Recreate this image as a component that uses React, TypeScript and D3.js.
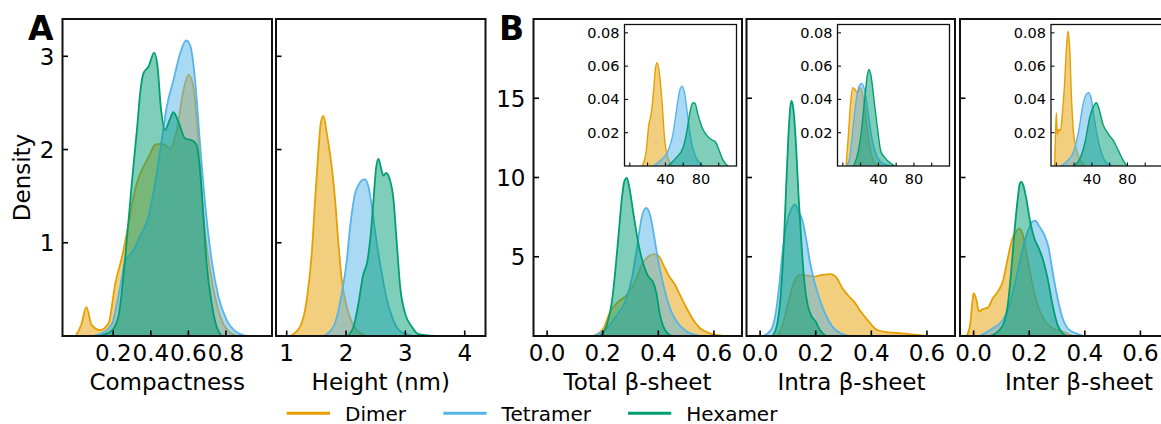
import React from 'react';
import * as d3 from 'd3';

type P = [number, number];

const SERIES = ['Dimer', 'Tetramer', 'Hexamer'];
const COLORS = ['#E69F00', '#56B4E9', '#009E73'];

// ---- Panel A: Compactness ----
const compactDimer: P[] = [[0.0,0],[0.03,0.12],[0.057,0.31],[0.085,0.12],[0.131,0.064],[0.175,0.136],[0.211,0.565],[0.247,0.85],[0.282,1.21],[0.308,1.49],[0.326,1.64],[0.352,1.78],[0.388,1.92],[0.423,2.05],[0.45,2.06],[0.476,2.05],[0.503,2.01],[0.538,2.21],[0.574,2.64],[0.60,2.80],[0.623,2.71],[0.653,2.10],[0.68,1.28],[0.715,0.71],[0.75,0.35],[0.786,0.13],[0.821,0.04],[0.857,0]];
const compactTetramer: P[] = [[0.09,0],[0.149,0.04],[0.193,0.13],[0.237,0.53],[0.264,0.81],[0.299,0.89],[0.343,1.07],[0.388,1.28],[0.423,1.64],[0.458,2.10],[0.485,2.46],[0.52,2.74],[0.556,3.03],[0.588,3.17],[0.609,3.12],[0.636,2.74],[0.662,2.06],[0.689,1.42],[0.724,0.81],[0.76,0.42],[0.804,0.17],[0.857,0.04],[0.91,0]];
const compactHexamer: P[] = [[0.13,0],[0.193,0.06],[0.228,0.21],[0.264,0.85],[0.299,1.64],[0.326,2.21],[0.347,2.67],[0.361,2.82],[0.388,2.89],[0.418,3.04],[0.436,2.89],[0.453,2.46],[0.476,2.21],[0.499,2.31],[0.52,2.40],[0.547,2.30],[0.582,2.12],[0.617,2.10],[0.641,2.06],[0.662,1.78],[0.68,1.28],[0.697,0.78],[0.724,0.35],[0.75,0.10],[0.777,0]];

// ---- Panel A: Height ----
const heightDimer: P[] = [[1.058,0],[1.226,0.10],[1.339,0.39],[1.423,0.89],[1.479,1.46],[1.535,1.99],[1.574,2.28],[1.619,2.36],[1.676,2.17],[1.76,1.81],[1.816,1.46],[1.872,0.99],[1.929,0.60],[2.013,0.31],[2.126,0.11],[2.266,0.02],[2.35,0]];
const heightTetramer: P[] = [[1.619,0],[1.788,0.10],[1.929,0.46],[2.013,0.81],[2.069,1.17],[2.153,1.53],[2.21,1.62],[2.266,1.67],[2.32,1.68],[2.378,1.60],[2.434,1.39],[2.519,0.99],[2.603,0.67],[2.688,0.39],[2.772,0.21],[2.912,0.05],[3.137,0]];
const heightHexamer: P[] = [[2.02,0],[2.126,0.10],[2.21,0.35],[2.283,0.64],[2.362,0.81],[2.418,1.10],[2.463,1.46],[2.508,1.81],[2.547,1.90],[2.586,1.81],[2.631,1.72],[2.676,1.75],[2.732,1.69],[2.8,1.46],[2.856,0.99],[2.912,0.53],[2.997,0.24],[3.109,0.10],[3.22,0.02],[3.5,0]];

// ---- Panel B: Total beta-sheet ----
const totalDimer: P[] = [[0.166,0],[0.203,0.49],[0.227,1.54],[0.257,2.17],[0.287,2.59],[0.317,3.44],[0.34,4.49],[0.364,5.02],[0.382,5.17],[0.4,5.08],[0.418,4.49],[0.436,3.86],[0.46,3.23],[0.478,2.59],[0.502,1.75],[0.526,1.01],[0.55,0.49],[0.586,0.17],[0.634,0]];
const totalTetramer: P[] = [[0.166,0],[0.215,0.49],[0.251,1.33],[0.281,2.17],[0.305,3.65],[0.323,5.55],[0.34,7.45],[0.356,8.08],[0.37,7.66],[0.382,6.60],[0.4,4.70],[0.418,3.23],[0.442,1.75],[0.466,0.91],[0.502,0.28],[0.55,0]];
const totalHexamer: P[] = [[0.19,0],[0.215,0.70],[0.233,2.17],[0.245,4.07],[0.257,6.39],[0.269,8.71],[0.278,9.77],[0.287,9.98],[0.296,9.34],[0.311,7.66],[0.329,5.76],[0.347,4.49],[0.364,3.75],[0.38,3.44],[0.392,2.80],[0.406,1.33],[0.424,0.38],[0.448,0]];

// ---- Panel B: Intra beta-sheet ----
const intraDimer: P[] = [[0.063,0],[0.081,0.70],[0.099,1.96],[0.123,3.44],[0.141,3.86],[0.165,3.82],[0.195,3.75],[0.224,3.86],[0.254,3.90],[0.272,3.75],[0.296,3.01],[0.32,2.49],[0.338,2.17],[0.362,1.54],[0.391,0.91],[0.421,0.38],[0.463,0.23],[0.511,0.17],[0.57,0.06],[0.6,0]];
const intraTetramer: P[] = [[0.01,0],[0.039,0.38],[0.057,1.54],[0.069,3.23],[0.081,5.34],[0.095,7.03],[0.111,7.98],[0.126,8.29],[0.138,7.87],[0.153,7.24],[0.165,6.18],[0.179,4.70],[0.195,3.44],[0.213,2.38],[0.236,1.33],[0.26,0.59],[0.29,0.17],[0.32,0]];
const intraHexamer: P[] = [[0.045,0],[0.063,0.91],[0.075,2.80],[0.085,5.76],[0.093,9.14],[0.102,12.73],[0.109,14.52],[0.113,14.83],[0.119,14.41],[0.129,12.1],[0.138,8.92],[0.149,5.76],[0.159,3.44],[0.171,1.96],[0.186,1.22],[0.2,0.91],[0.215,0.38],[0.236,0]];

// ---- Panel B: Inter beta-sheet ----
const interDimer: P[] = [[-0.025,0],[-0.012,0.8],[-0.004,2.2],[0.0,2.70],[0.01,2.28],[0.019,1.54],[0.028,1.64],[0.036,1.71],[0.051,1.79],[0.069,2.38],[0.087,2.80],[0.105,3.44],[0.123,4.91],[0.138,6.07],[0.153,6.60],[0.165,6.77],[0.177,6.39],[0.189,5.34],[0.207,3.65],[0.23,1.96],[0.254,1.01],[0.284,0.49],[0.32,0.28],[0.356,0]];
const interTetramer: P[] = [[0.022,0],[0.069,0.49],[0.105,1.01],[0.129,1.96],[0.153,3.65],[0.177,5.55],[0.195,6.60],[0.21,7.19],[0.222,7.28],[0.236,6.92],[0.254,6.39],[0.27,5.55],[0.284,4.07],[0.302,2.38],[0.32,1.12],[0.338,0.49],[0.368,0.17],[0.397,0]];
const interHexamer: P[] = [[0.057,0],[0.093,0.38],[0.111,0.91],[0.123,1.96],[0.135,4.07],[0.147,6.60],[0.159,8.71],[0.166,9.62],[0.172,9.73],[0.179,9.5],[0.189,8.71],[0.203,7.24],[0.218,6.18],[0.234,5.55],[0.248,4.91],[0.266,3.65],[0.284,1.96],[0.302,0.70],[0.32,0.17],[0.338,0]];

// ---- Insets (count) ----
const totalInsetDimer: P[] = [[13.9,0],[18.4,0.0089],[21.4,0.025],[24,0.031],[26.7,0.045],[28.9,0.059],[30.8,0.062],[33.4,0.055],[36.4,0.037],[39,0.017],[42.8,0.005],[48.4,0]];
const totalInsetTetramer: P[] = [[26,0],[35.3,0.0037],[42.8,0.0089],[48.4,0.0189],[52.9,0.035],[55.9,0.045],[58.9,0.048],[61.9,0.043],[65.3,0.029],[69,0.015],[74.7,0.005],[82.2,0]];
const totalInsetHexamer: P[] = [[42.8,0],[52.2,0.005],[59.7,0.0108],[64.2,0.0209],[67.9,0.033],[70.9,0.038],[73.2,0.0377],[76.6,0.031],[81.4,0.023],[85.9,0.0189],[91.5,0.0159],[96.4,0.0144],[100.2,0.0098],[104.7,0.0037],[110.3,0]];

const intraInsetDimer: P[] = [[3.7,0],[6.3,0.019],[8.9,0.039],[11.1,0.047],[13.7,0.046],[16.3,0.044],[19.3,0.047],[23.1,0.041],[26.8,0.025],[31.3,0.0089],[36.2,0.0016],[41.8,0]];
const intraInsetTetramer: P[] = [[4.5,0],[8.2,0.0066],[11.1,0.021],[14.9,0.039],[18.3,0.048],[21.3,0.0496],[24.3,0.046],[27.7,0.035],[31.4,0.021],[36.2,0.0089],[41.8,0.0029],[49.3,0.0006],[56.8,0]];
const intraInsetHexamer: P[] = [[11.9,0],[17.5,0.0089],[21.3,0.023],[25.1,0.043],[27.7,0.055],[29.5,0.058],[31.8,0.054],[35.2,0.039],[38.9,0.023],[42.7,0.0089],[47.5,0.0049],[52.4,0.0022],[58.8,0]];

const interInsetDimer: P[] = [[-1.9,0],[-1.2,0.013],[0,0.032],[1.1,0.019],[2.6,0.022],[4.5,0.021],[6.7,0.031],[9,0.047],[11.2,0.069],[13.1,0.081],[15,0.071],[16.9,0.043],[19.5,0.019],[23.2,0.0089],[27,0.0037],[32.6,0]];
const interInsetTetramer: P[] = [[4.5,0],[12,0.0029],[19.5,0.0089],[25.1,0.021],[30,0.037],[33.7,0.043],[36.4,0.044],[39,0.041],[42,0.031],[45.7,0.019],[50.2,0.0089],[57,0.0016],[64.5,0]];
const interInsetHexamer: P[] = [[19.5,0],[27,0.0049],[32.6,0.015],[37.5,0.029],[42,0.036],[45,0.038],[47.6,0.035],[52.5,0.025],[58.8,0.019],[64.5,0.015],[70.1,0.0089],[75.7,0.0029],[79.5,0]];

// ---- ticks ----
const compactTicks = [0.2, 0.4, 0.6, 0.8];
const heightTicks = [1, 2, 3, 4];
const densityATicks = [1, 2, 3];
const betaTicks = [0.0, 0.2, 0.4, 0.6];
const densityBTicks = [5, 10, 15];
const insetXTicks = [0, 20, 40, 60, 80, 100];
const insetXLabeled = [40, 80];
const insetYTicks = [0.02, 0.04, 0.06, 0.08];

const FONT = "'DejaVu Sans', sans-serif";
const MAIN_FS = 23;

interface AxesProps {
  id: string;
  x0: number; x1: number; y0: number; y1: number;
  xDomain: [number, number]; yDomain: [number, number];
  series: P[][];
  xTicks: number[]; xLabeled?: number[]; xFmt: (v: number) => string;
  yTicks: number[]; yFmt?: (v: number) => string;
  fontSize: number; tickLen: number; frameW: number; lineW: number;
  xLabOff: number; yLabOff: number; yBaseOff: number;
  xLabel?: string; xLabelX?: number; xLabelY?: number;
  bg?: boolean;
}

function Axes(p: AxesProps) {
  const x = d3.scaleLinear().domain(p.xDomain).range([p.x0, p.x1]);
  const y = d3.scaleLinear().domain(p.yDomain).range([p.y1, p.y0]);
  const area = d3.area<P>().x(d => x(d[0])).y0(y(0)).y1(d => y(d[1])).curve(d3.curveMonotoneX);
  const line = d3.line<P>().x(d => x(d[0])).y(d => y(d[1])).curve(d3.curveMonotoneX);
  const labeled = p.xLabeled ?? p.xTicks;
  return (
    <g>
      <defs>
        <clipPath id={p.id}>
          <rect x={p.x0} y={p.y0} width={p.x1 - p.x0} height={p.y1 - p.y0} />
        </clipPath>
      </defs>
      {p.bg && <rect x={p.x0} y={p.y0} width={p.x1 - p.x0} height={p.y1 - p.y0} fill="#fff" />}
      <g clipPath={`url(#${p.id})`}>
        {p.series.map((s, i) => (
          <g key={SERIES[i]}>
            <path d={area(s) ?? ''} fill={COLORS[i]} fillOpacity={0.5} stroke="none" />
            <path d={line(s) ?? ''} fill="none" stroke={COLORS[i]} strokeWidth={p.lineW} strokeLinejoin="round" />
          </g>
        ))}
      </g>
      {p.xTicks.map(t => (
        <line key={'xt' + t} x1={x(t)} x2={x(t)} y1={p.y1} y2={p.y1 - p.tickLen} stroke="#000" strokeWidth={p.frameW * 0.8} />
      ))}
      {p.yTicks.map(t => (
        <line key={'yt' + t} x1={p.x0} x2={p.x0 + p.tickLen} y1={y(t)} y2={y(t)} stroke="#000" strokeWidth={p.frameW * 0.8} />
      ))}
      <rect x={p.x0} y={p.y0} width={p.x1 - p.x0} height={p.y1 - p.y0} fill="none" stroke="#111" strokeWidth={p.frameW} />
      {p.xTicks.filter(t => labeled.includes(t)).map(t => (
        <text key={'xl' + t} x={x(t)} y={p.y1 + p.xLabOff} textAnchor="middle" fontSize={p.fontSize} fontFamily={FONT} fill="#000">{p.xFmt(t)}</text>
      ))}
      {p.yFmt && p.yTicks.map(t => (
        <text key={'yl' + t} x={p.x0 - p.yLabOff} y={y(t) + p.yBaseOff} textAnchor="end" fontSize={p.fontSize} fontFamily={FONT} fill="#000">{p.yFmt!(t)}</text>
      ))}
      {p.xLabel && (
        <text x={p.xLabelX ?? (p.x0 + p.x1) / 2} y={p.xLabelY} textAnchor="middle" fontSize={MAIN_FS} fontFamily={FONT} fill="#000">{p.xLabel}</text>
      )}
    </g>
  );
}

const Y0 = 19, Y1 = 336;
const mainCommon = { y0: Y0, y1: Y1, fontSize: MAIN_FS, tickLen: 5.5, frameW: 2, lineW: 1.8, xLabOff: 25, yLabOff: 8, yBaseOff: 8.3, xLabelY: 389.5 };
const insetCommon = { fontSize: 14.5, tickLen: 3.5, frameW: 1.3, lineW: 1.4, xLabOff: 17.5, yLabOff: 5, yBaseOff: 5, bg: true };
const fmt1 = d3.format('.1f');
const fmt0 = d3.format('d');
const fmt2 = d3.format('.2f');

export default function App() {
  const bPanels = [
    { id: 'b1', x0: 533.5, x1: 742, data: [totalDimer, totalTetramer, totalHexamer], inset: [totalInsetDimer, totalInsetTetramer, totalInsetHexamer], label: 'Total β-sheet', lx: 637.5, yl: true },
    { id: 'b2', x0: 746.5, x1: 955, data: [intraDimer, intraTetramer, intraHexamer], inset: [intraInsetDimer, intraInsetTetramer, intraInsetHexamer], label: 'Intra β-sheet', lx: 851.5, yl: false },
    { id: 'b3', x0: 960, x1: 1196, data: [interDimer, interTetramer, interHexamer], inset: [interInsetDimer, interInsetTetramer, interInsetHexamer], label: 'Inter β-sheet', lx: 1079, yl: false },
  ];
  const legendX = [286.7, 443.3, 628];
  return (
    <svg width={1161} height={424} style={{ position: 'absolute', left: 0, top: 0, background: '#fff' }} fontFamily={FONT}>
      <rect x={0} y={0} width={1161} height={424} fill="#fff" />
      <Axes id="a1" {...mainCommon} x0={62.5} x1={272} xDomain={[-0.07, 1.045]} yDomain={[0, 3.4]}
        series={[compactDimer, compactTetramer, compactHexamer]} xTicks={compactTicks} xFmt={fmt1}
        yTicks={densityATicks} yFmt={fmt0} xLabel="Compactness" />
      <Axes id="a2" {...mainCommon} x0={276} x1={485.5} xDomain={[0.82, 4.35]} yDomain={[0, 3.4]}
        series={[heightDimer, heightTetramer, heightHexamer]} xTicks={heightTicks} xFmt={fmt0}
        yTicks={densityATicks} xLabel="Height (nm)" />
      {bPanels.map(b => (
        <g key={b.id}>
          <Axes id={b.id} {...mainCommon} x0={b.x0} x1={b.x1}
            xDomain={[-0.049, -0.049 + (b.x1 - b.x0) / 278]} yDomain={[0, 20]}
            series={b.data} xTicks={betaTicks} xFmt={fmt1}
            yTicks={densityBTicks} yFmt={b.yl ? fmt0 : undefined} xLabel={b.label} xLabelX={b.lx} />
          <Axes id={b.id + 'i'} {...insetCommon} x0={b.x0 + 91} x1={b.x0 + 203} y0={24.5} y1={166}
            xDomain={[-6, 120]} yDomain={[0, 0.085]} series={b.inset}
            xTicks={insetXTicks} xLabeled={insetXLabeled} xFmt={fmt0}
            yTicks={insetYTicks} yFmt={fmt2} />
        </g>
      ))}
      <text x={0} y={0} transform="translate(30,177.5) rotate(-90)" textAnchor="middle" fontSize={MAIN_FS} fontFamily={FONT} fill="#000">Density</text>
      <text x={28} y={40} fontSize={33} fontWeight="bold" fontFamily={FONT} fill="#000">A</text>
      <text x={499} y={40} fontSize={33} fontWeight="bold" fontFamily={FONT} fill="#000">B</text>
      {SERIES.map((s, i) => (
        <g key={s}>
          <line x1={legendX[i]} x2={legendX[i] + 43.3} y1={413.3} y2={413.3} stroke={COLORS[i]} strokeWidth={3} />
          <text x={legendX[i] + 58.3} y={420.5} fontSize={20} fontFamily={FONT} fill="#000">{s}</text>
        </g>
      ))}
    </svg>
  );
}
